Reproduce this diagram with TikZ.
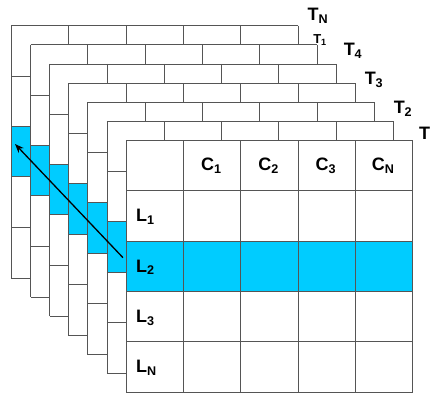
\documentclass[tikz,border=0pt]{standalone}
\usepackage{fontspec}
\setmainfont{Liberation Sans}
\usetikzlibrary{arrows.meta}
\definecolor{rowblue}{RGB}{0,204,255}
\definecolor{gridgray}{RGB}{85,85,85}
\begin{document}
\begin{tikzpicture}[x=1pt,y=-1pt,
  gridline/.style={draw=gridgray,line width=0.8pt},
  lbl/.style={font=\bfseries\fontsize{18}{20}\selectfont,inner sep=0pt},
  smalllbl/.style={font=\bfseries\fontsize{13}{15}\selectfont,inner sep=0pt}]
\useasboundingbox (0,0) rectangle (431,392);
\foreach \k in {6,5,...,0}{
  \pgfmathsetmacro\ox{126-19.1*\k}
  \pgfmathsetmacro\oy{140.3-19.1*\k}
  \fill[white] (\ox,\oy) rectangle ++(286.5,252.5);
  \fill[rowblue] (\ox,\oy+100.6) rectangle ++(286.5,50.3);
  \foreach \i in {0,...,5}{
    \draw[gridline] ({\ox+57.3*\i},\oy) -- ++(0,252.5);
  }
  \foreach \i in {0,...,4}{
    \draw[gridline] (\ox,{\oy+50.3*\i}) -- ++(286.5,0);
  }
  \draw[gridline] (\ox,{\oy+252.5}) -- ++(286.5,0);
}
% column headers
\node[lbl] (c1) at (211.3,166) {C\textsubscript{1}};
\node[lbl] (c2) at (268.6,166) {C\textsubscript{2}};
\node[lbl] (c3) at (325.9,166) {C\textsubscript{3}};
\node[lbl] (cn) at (383.2,166) {C\textsubscript{N}};
% row labels
\node[lbl,anchor=west] (l1) at (136,217) {L\textsubscript{1}};
\node[lbl,anchor=west] (l2) at (136,267.3) {L\textsubscript{2}};
\node[lbl,anchor=west] (l3) at (136,317.6) {L\textsubscript{3}};
\node[lbl,anchor=west] (ln) at (136,367.9) {L\textsubscript{N}};
% layer labels
\node[lbl] (tn) at (318,16) {T\textsubscript{N}};
\node[smalllbl] (t1) at (320,40) {T\textsubscript{1}};
\node[lbl] (t4) at (353,51) {T\textsubscript{4}};
\node[lbl] (t3) at (374,80) {T\textsubscript{3}};
\node[lbl] (t2) at (403,109) {T\textsubscript{2}};
\node[lbl,anchor=west] (t0) at (419,133) {T};
% arrow
\coordinate (as) at (123,257.7);
\coordinate (ae) at (15,144);
\draw[-{Stealth[length=9pt,width=7pt]},line width=1.3pt,black] (as) -- (ae);
\end{tikzpicture}
\end{document}
